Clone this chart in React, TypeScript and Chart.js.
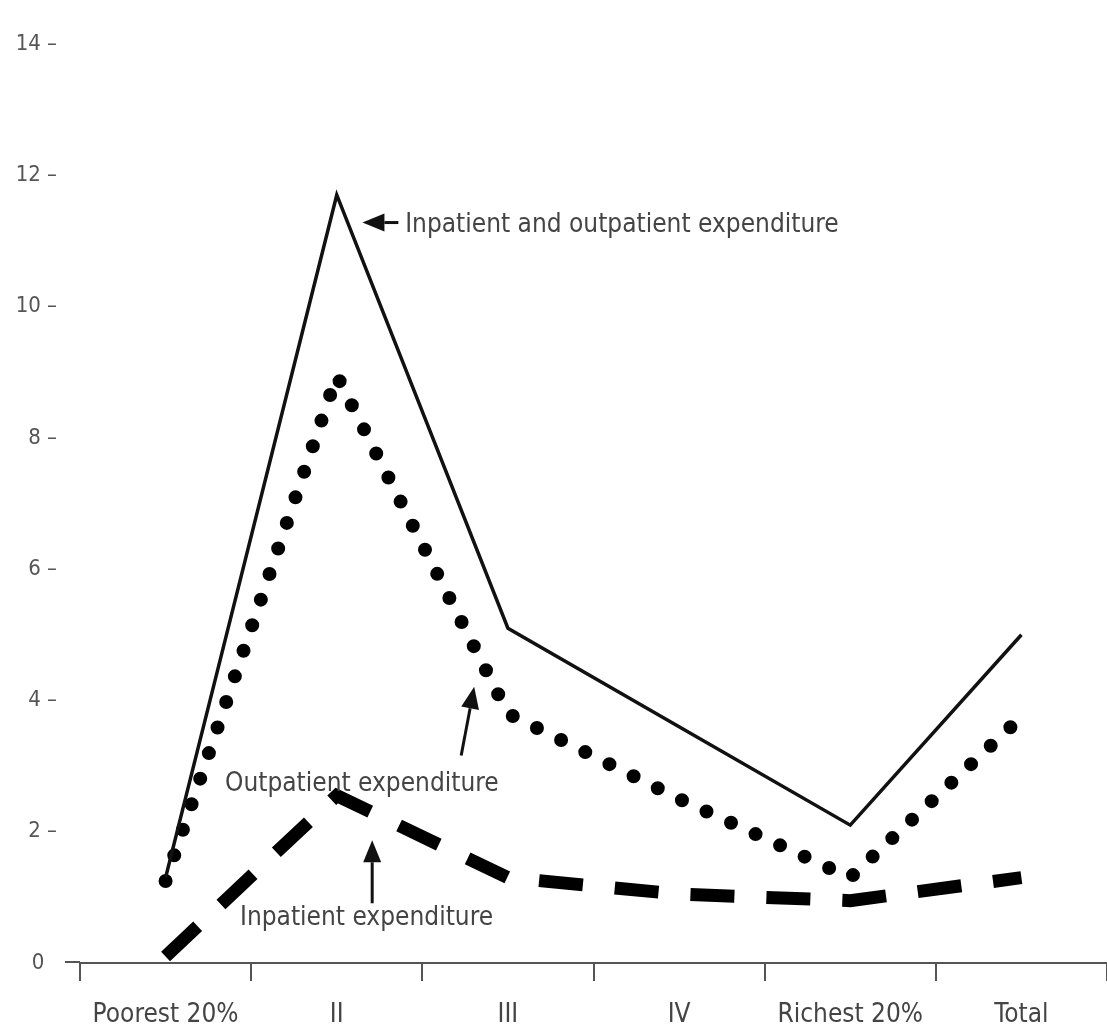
import React, { useEffect, useRef } from "react";
import { Chart, registerables } from "chart.js";

Chart.register(...registerables);

const categories = ["Poorest 20%", "II", "III", "IV", "Richest 20%", "Total"];
const totalExpenditure = [1.3, 11.7, 5.1, 3.6, 2.1, 5.0];
const outpatientExpenditure = [1.25, 8.95, 3.8, 2.5, 1.3, 3.75];
const inpatientExpenditure = [0.1, 2.55, 1.3, 1.05, 0.95, 1.3];
const yTicks = [0, 2, 4, 6, 8, 10, 12, 14];

// annotations in data units (x = category index, y = value)
const annotations = [
  { text: "Inpatient and outpatient expenditure", x: 1.4, y: 11.24, maxW: 440, tail: [1.36, 11.28], tip: [1.15, 11.28] },
  { text: "Outpatient expenditure", x: 0.347, y: 2.73, maxW: 275, tail: [1.727, 3.16], tip: [1.803, 4.21] },
  { text: "Inpatient expenditure", x: 0.435, y: 0.68, maxW: 260, tail: [1.207, 0.91], tip: [1.207, 1.87] },
];

const FONT = "'Liberation Sans Narrow', 'DejaVu Sans Condensed', 'Roboto Condensed', sans-serif";

const annotationPlugin = {
  id: "annotationsPlugin",
  afterDraw(chart: any) {
    const { ctx, scales, chartArea } = chart;
    const xs = scales.x;
    const ys = scales.y;
    ctx.save();
    // extend x axis line to the left
    ctx.strokeStyle = "#555";
    ctx.lineWidth = 2;
    ctx.beginPath();
    ctx.moveTo(chartArea.left - 15, chartArea.bottom - 1);
    ctx.lineTo(chartArea.left, chartArea.bottom - 1);
    ctx.stroke();

    ctx.font = `26px ${FONT}`;
    ctx.textBaseline = "middle";
    ctx.textAlign = "left";
    for (const a of annotations) {
      const px = xs.getPixelForValue(a.x);
      const py = ys.getPixelForValue(a.y);
      const w = ctx.measureText(a.text).width;
      ctx.fillStyle = "#444";
      ctx.fillText(a.text, px, py, Math.min(w, a.maxW));
      const tx = xs.getPixelForValue(a.tip[0]);
      const ty = ys.getPixelForValue(a.tip[1]);
      const sx = xs.getPixelForValue(a.tail[0]);
      const sy = ys.getPixelForValue(a.tail[1]);
      const ang = Math.atan2(ty - sy, tx - sx);
      const headLen = 22;
      const headW = 9;
      const bx = tx - headLen * Math.cos(ang);
      const by = ty - headLen * Math.sin(ang);
      ctx.strokeStyle = "#111";
      ctx.lineWidth = 3;
      ctx.beginPath();
      ctx.moveTo(sx, sy);
      ctx.lineTo(bx, by);
      ctx.stroke();
      ctx.fillStyle = "#111";
      ctx.beginPath();
      ctx.moveTo(tx, ty);
      ctx.lineTo(bx + headW * Math.sin(ang), by - headW * Math.cos(ang));
      ctx.lineTo(bx - headW * Math.sin(ang), by + headW * Math.cos(ang));
      ctx.closePath();
      ctx.fill();
    }
    ctx.restore();
  },
};

export default function App() {
  const canvasRef = useRef<HTMLCanvasElement | null>(null);

  useEffect(() => {
    document.body.style.margin = "0";
    const canvas = canvasRef.current;
    if (!canvas) return;
    const chart = new Chart(canvas, {
      type: "line",
      data: {
        labels: categories,
        datasets: [
          {
            label: "Inpatient and outpatient expenditure",
            data: totalExpenditure,
            borderColor: "#111",
            borderWidth: 3.5,
            pointRadius: 0,
            tension: 0,
            fill: false,
          },
          {
            label: "Outpatient expenditure",
            data: outpatientExpenditure,
            borderColor: "#000",
            borderWidth: 14,
            borderDash: [0, 27],
            borderCapStyle: "round",
            borderJoinStyle: "round",
            pointRadius: 0,
            tension: 0,
            fill: false,
          },
          {
            label: "Inpatient expenditure",
            data: inpatientExpenditure,
            borderColor: "#000",
            borderWidth: 13,
            borderDash: [44, 32],
            borderCapStyle: "butt",
            pointRadius: 0,
            tension: 0,
            fill: false,
          },
        ],
      },
      options: {
        animation: false,
        responsive: false,
        layout: { padding: { top: 44, right: 0, bottom: 0, left: 0 } },
        plugins: {
          legend: { display: false },
          tooltip: { enabled: false },
        },
        scales: {
          x: {
            offset: true,
            afterFit(scale: any) {
              scale.height = 70;
            },
            grid: {
              offset: true,
              drawOnChartArea: false,
              drawTicks: true,
              tickLength: 18,
              color: "#555",
              lineWidth: 2,
            },
            border: { display: true, color: "#555", width: 2 },
            ticks: {
              color: "#444",
              padding: 19,
              maxRotation: 0,
              autoSkip: false,
              font: { family: FONT, size: 26 },
            },
          },
          y: {
            min: 0,
            max: 14,
            afterFit(scale: any) {
              scale.width = 80;
            },
            afterBuildTicks(scale: any) {
              scale.ticks = yTicks.map((v) => ({ value: v }));
            },
            grid: { display: false, drawTicks: false },
            border: { display: false },
            ticks: {
              color: "#555",
              padding: 23,
              font: { family: FONT, size: 22 },
              callback: (v: any) => (Number(v) === 0 ? "0  " : `${v} –`),
            },
          },
        },
      },
      plugins: [annotationPlugin],
    });
    return () => chart.destroy();
  }, []);

  return (
    <div style={{ width: 1107, height: 1033, background: "#fff" }}>
      <canvas ref={canvasRef} width={1107} height={1033} style={{ display: "block" }} />
    </div>
  );
}
